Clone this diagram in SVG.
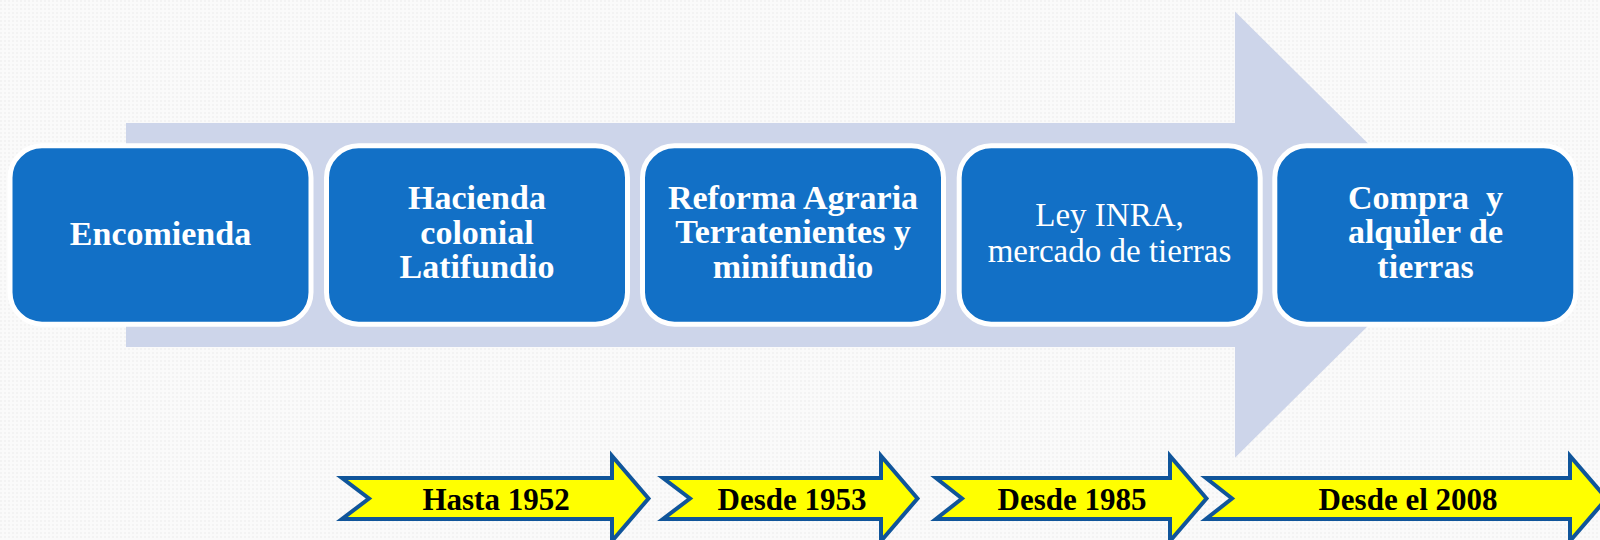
<svg xmlns="http://www.w3.org/2000/svg" width="1600" height="540" viewBox="0 0 1600 540">
  <style>
    .box { fill: #1270c6; stroke: #ffffff; stroke-width: 5; }
    .btxt { font-family: "Liberation Serif", "DejaVu Serif", serif; font-size: 34px; font-weight: bold; fill: #ffffff; text-anchor: middle; }
    .btxt-r { font-family: "Liberation Serif", "DejaVu Serif", serif; font-size: 33px; font-weight: normal; fill: #ffffff; text-anchor: middle; }
    .yarrow { fill: #ffff00; stroke: #10559a; stroke-width: 4; stroke-linejoin: miter; }
    .ytxt { font-family: "Liberation Serif", "DejaVu Serif", serif; font-size: 31px; font-weight: bold; fill: #000000; text-anchor: middle; }
  </style>
  <defs>
    <pattern id="bgpat" width="4" height="4" patternUnits="userSpaceOnUse">
      <rect width="4" height="4" fill="#fafafa"/>
      <rect width="2" height="2" fill="#f3f3f3"/>
    </pattern>
  </defs>
  <rect width="1600" height="540" fill="url(#bgpat)"/>

  <g id="connectors">
    <polygon id="process-arrow" fill="#cdd5ea" points="126,123 1235,123 1235,11.5 1460,234.7 1235,457.8 1235,347 126,347"/>
  </g>

  <g id="node-encomienda">
    <rect class="box" x="10" y="145.8" width="301" height="178.4" rx="32" ry="32"/>
    <text class="btxt" x="160.5" y="245">Encomienda</text>
  </g>
  <g id="node-hacienda">
    <rect class="box" x="326.5" y="145.8" width="301" height="178.4" rx="32" ry="32"/>
    <text class="btxt" x="477" y="209">Hacienda</text>
    <text class="btxt" x="477" y="243.5">colonial</text>
    <text class="btxt" x="477" y="278.2">Latifundio</text>
  </g>
  <g id="node-reforma">
    <rect class="box" x="642.5" y="145.8" width="301" height="178.4" rx="32" ry="32"/>
    <text class="btxt" x="793" y="208.5">Reforma Agraria</text>
    <text class="btxt" x="793" y="242.8">Terratenientes y</text>
    <text class="btxt" x="793" y="277.7">minifundio</text>
  </g>
  <g id="node-ley-inra">
    <rect class="box" x="959.2" y="145.8" width="301" height="178.4" rx="32" ry="32"/>
    <text class="btxt-r" x="1109.5" y="226">Ley INRA,</text>
    <text class="btxt-r" x="1109.5" y="261.7">mercado de tierras</text>
  </g>
  <g id="node-compra">
    <rect class="box" x="1274.8" y="145.8" width="301" height="178.4" rx="32" ry="32"/>
    <text class="btxt" x="1425.5" y="209" style="white-space:pre">Compra  y</text>
    <text class="btxt" x="1425.5" y="243.3">alquiler de</text>
    <text class="btxt" x="1425.5" y="277.7">tierras</text>
  </g>

  <g id="period-1952">
    <path class="yarrow" d="M342,478 H612 V456 L648.5,498.5 L612,541 V519 H342 L369,498.5 Z"/>
    <text class="ytxt" x="496" y="510">Hasta 1952</text>
  </g>
  <g id="period-1953">
    <path class="yarrow" d="M663,478 H881 V456 L917.5,498.5 L881,541 V519 H663 L690,498.5 Z"/>
    <text class="ytxt" x="792" y="510">Desde 1953</text>
  </g>
  <g id="period-1985">
    <path class="yarrow" d="M936,478 H1170 V456 L1206.5,498.5 L1170,541 V519 H936 L962,498.5 Z"/>
    <text class="ytxt" x="1072" y="510">Desde 1985</text>
  </g>
  <g id="period-2008">
    <path class="yarrow" d="M1206,478 H1570 V456 L1606.5,498.5 L1570,541 V519 H1206 L1232,498.5 Z"/>
    <text class="ytxt" x="1408" y="510">Desde el 2008</text>
  </g>
</svg>
